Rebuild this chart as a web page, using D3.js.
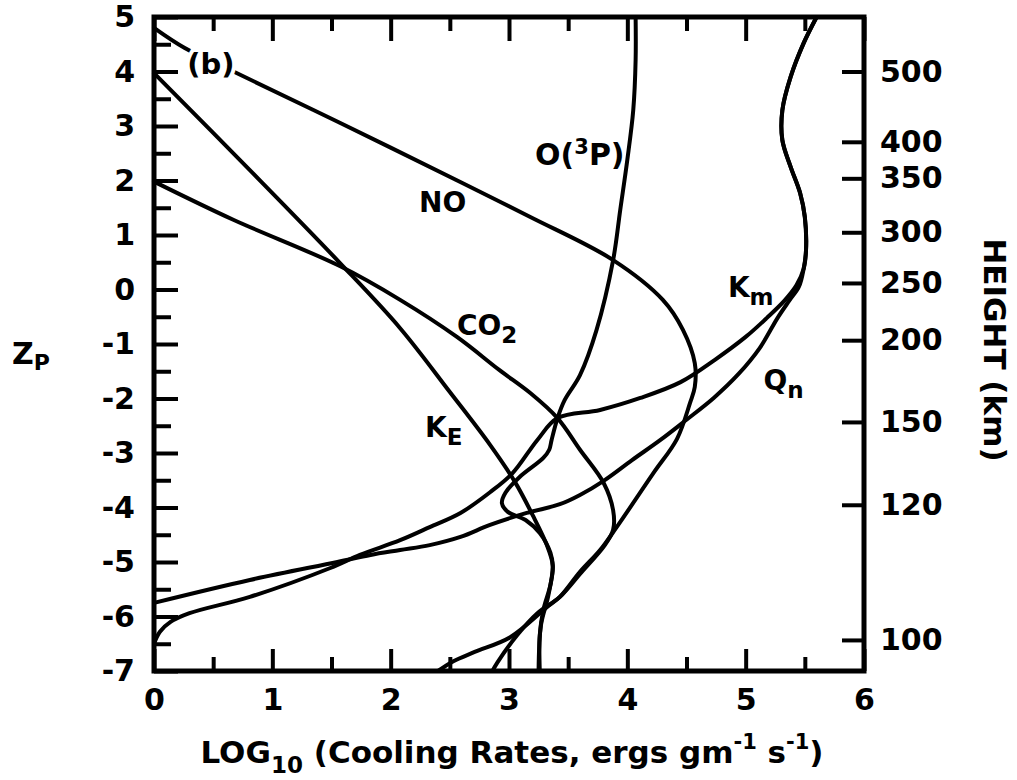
<!DOCTYPE html>
<html>
<head>
<meta charset="utf-8">
<script src="https://cdn.jsdelivr.net/npm/d3@7"></script>
<style>
  body { margin: 0; background: #fff; }
  svg { font-family: "DejaVu Sans", sans-serif; font-weight: bold; }
  .tick text { font-family: "DejaVu Sans", sans-serif; font-weight: bold; }
</style>
</head>
<body>
<svg id="chart"></svg>
<script>
(() => {
    const width = 1017;
    const height = 780;

    // log10 cooling rate vs Zp
    const noCurve = [[0, 4.80], [0.26, 4.43], [0.68, 3.99], [1.57, 3.06], [2.61, 1.95], [3.18, 1.33],
        [3.88, 0.54], [4.30, -0.19], [4.47, -0.74], [4.57, -1.35], [4.57, -1.79], [4.53, -2.08],
        [4.42, -2.74], [4.22, -3.37], [3.91, -4.36], [3.77, -4.78], [3.60, -5.18], [3.43, -5.64],
        [3.32, -5.83], [3.01, -6.38], [2.71, -6.65], [2.53, -6.82], [2.40, -7]];
    const co2Curve = [[0, 1.98], [0.67, 1.28], [1.57, 0.43], [2.08, -0.19], [2.56, -0.87], [2.92, -1.48],
        [3.18, -1.90], [3.41, -2.36], [3.60, -2.94], [3.80, -3.55], [3.88, -4.05], [3.88, -4.41],
        [3.81, -4.69], [3.60, -5.22], [3.43, -5.64], [3.24, -5.94], [3.07, -6.34], [2.90, -6.85], [2.86, -7]];
    const keCurve = [[0, 3.97], [0.81, 2.19], [1.57, 0.49], [2.08, -0.71], [2.50, -1.88], [2.84, -2.85],
        [3.05, -3.53], [3.20, -4.14], [3.32, -4.69], [3.37, -5.06], [3.35, -5.42], [3.29, -5.88],
        [3.26, -6.34], [3.26, -7]];
    const o3pCurve = [[4.07, 5], [4.07, 4.21], [4.05, 3.29], [4.00, 2.38], [3.94, 1.46], [3.88, 0.54],
        [3.74, -0.74], [3.60, -1.57], [3.47, -2.03], [3.41, -2.36], [3.36, -2.76], [3.34, -2.94],
        [3.29, -3.09], [3.09, -3.44], [2.97, -3.73], [2.94, -3.92], [2.99, -4.08], [3.14, -4.23],
        [3.26, -4.47], [3.35, -4.83], [3.37, -5.09], [3.33, -5.64], [3.27, -6.16], [3.25, -7]];
    const kmQnTop = [[5.60, 5], [5.49, 4.52], [5.38, 3.90], [5.31, 3.29], [5.31, 2.74], [5.38, 2.25],
        [5.46, 1.77], [5.50, 1.33], [5.51, 0.72], [5.49, 0.38]];
    const kmCurve = kmQnTop.concat([[5.43, 0.08], [5.33, -0.20], [5.18, -0.52], [5.00, -0.87], [4.74, -1.29],
        [4.45, -1.70], [4.11, -1.99], [3.77, -2.21], [3.41, -2.36], [3.24, -2.76], [3.03, -3.37], [2.84, -3.72],
        [2.59, -4.10], [2.33, -4.36], [2.08, -4.60], [1.74, -4.87], [1.49, -5.11], [0.81, -5.64],
        [0.30, -5.94], [0.14, -6.10], [0.05, -6.28], [0, -6.50]]);
    const qnCurve = kmQnTop.concat([[5.45, 0.05], [5.37, -0.20], [5.27, -0.52], [5.12, -1.07], [4.94, -1.55],
        [4.73, -1.99], [4.50, -2.39], [4.28, -2.76], [4.04, -3.13], [3.80, -3.51], [3.60, -3.77], [3.43, -3.94],
        [3.15, -4.10], [2.84, -4.32], [2.59, -4.54], [2.33, -4.69], [2.08, -4.78], [1.83, -4.87],
        [1.55, -5.00], [0.81, -5.33], [0, -5.75]]);

    const zpTicks = [5, 4, 3, 2, 1, 0, -1, -2, -3, -4, -5, -6, -7];
    const zpMinor = [4.5, 3.5, 2.5, 1.5, 0.5, -0.5, -1.5, -2.5, -3.5, -4.5, -5.5, -6.5];
    const xTicks = [0, 1, 2, 3, 4, 5, 6];
    const xMinor = [0.5, 1.5, 2.5, 3.5, 4.5, 5.5];
    const heightLabels = [500, 400, 350, 300, 250, 200, 150, 120, 100];
    const heightZp = [4.0, 2.71, 2.04, 1.05, 0.12, -0.93, -2.43, -3.95, -6.43];

    const left = 154, right = 864, top = 17, bottom = 671;

    const svg = d3.select("#chart")
        .attr("width", width)
        .attr("height", height);

    const x = d3.scaleLinear().domain([0, 6]).range([left, right]);
    const y = d3.scaleLinear().domain([-7, 5]).range([bottom, top]);

    const line = d3.line()
        .x(d => x(d[0]))
        .y(d => y(d[1]))
        .curve(d3.curveCatmullRom.alpha(0.5));

    // curves
    const curves = [noCurve, co2Curve, keCurve, o3pCurve, kmCurve, qnCurve];
    svg.append("g")
        .attr("class", "curves")
        .selectAll("path")
        .data(curves)
        .enter()
        .append("path")
        .attr("d", line)
        .attr("fill", "none")
        .attr("stroke", "#000")
        .attr("stroke-width", 4)
        .attr("stroke-linejoin", "round")
        .attr("stroke-linecap", "round");

    // axes, ticks pointing inward
    const styleAxis = g => {
        g.select(".domain").remove();
        g.selectAll(".tick line").attr("stroke", "#000").attr("stroke-width", 4);
        g.selectAll(".tick text").attr("fill", "#000").attr("font-size", 30);
    };

    svg.append("g")
        .attr("transform", `translate(${left},0)`)
        .call(d3.axisLeft(y).tickValues(zpTicks).tickSize(-24).tickPadding(19).tickFormat(d => String(d)))
        .call(styleAxis);
    svg.append("g")
        .attr("transform", `translate(${left},0)`)
        .call(d3.axisLeft(y).tickValues(zpMinor).tickSize(-17).tickFormat(""))
        .call(styleAxis);

    svg.append("g")
        .attr("transform", `translate(0,${bottom})`)
        .call(d3.axisBottom(x).tickValues(xTicks).tickSize(-22).tickPadding(18).tickFormat(d => String(d)))
        .call(styleAxis);
    svg.append("g")
        .attr("transform", `translate(0,${bottom})`)
        .call(d3.axisBottom(x).tickValues(xMinor).tickSize(-14).tickFormat(""))
        .call(styleAxis);

    svg.append("g")
        .attr("transform", `translate(0,${top})`)
        .call(d3.axisTop(x).tickValues(xTicks).tickSize(-24).tickFormat(""))
        .call(styleAxis);
    svg.append("g")
        .attr("transform", `translate(0,${top})`)
        .call(d3.axisTop(x).tickValues(xMinor).tickSize(-14).tickFormat(""))
        .call(styleAxis);

    svg.append("g")
        .attr("transform", `translate(${right},0)`)
        .call(d3.axisRight(y).tickValues(heightZp).tickSize(-22).tickPadding(16)
            .tickFormat((d, i) => heightLabels[i]))
        .call(styleAxis);

    // frame
    svg.append("rect")
        .attr("x", left)
        .attr("y", top)
        .attr("width", right - left)
        .attr("height", bottom - top)
        .attr("fill", "none")
        .attr("stroke", "#000")
        .attr("stroke-width", 5);

    // curve labels
    const labels = svg.append("g").attr("class", "labels").attr("fill", "#000");

    const addLabel = (xv, zp, main, sub, sup, opts = {}) => {
        const t = labels.append("text")
            .attr("x", x(xv))
            .attr("y", y(zp))
            .attr("font-size", opts.size || 28);
        if (opts.halo) {
            t.attr("stroke", "#fff").attr("stroke-width", 8).attr("paint-order", "stroke");
        }
        t.append("tspan").text(main);
        if (sup) t.append("tspan").attr("font-size", 21).attr("dy", -11).text(sup);
        if (sub) t.append("tspan").attr("font-size", opts.subSize || 23).attr("dy", 8).text(sub);
        if (opts.after) t.append("tspan").attr("dy", 11).text(opts.after);
        return t;
    };

    addLabel(0.28, 3.96, "(b)", null, null, { halo: true, size: 29 });
    addLabel(2.24, 1.42, "NO");
    addLabel(3.22, 2.28, "O(", null, "3", { after: "P)", size: 30 });
    addLabel(2.56, -0.83, "CO", "2");
    addLabel(2.29, -2.71, "K", "E");
    addLabel(4.85, -0.14, "K", "m");
    addLabel(5.15, -1.84, "Q", "n");

    // axis titles
    const zt = svg.append("text")
        .attr("x", 12)
        .attr("y", 364)
        .attr("font-size", 30);
    zt.append("tspan").text("Z");
    zt.append("tspan").attr("font-size", 22).attr("dy", 6).text("P");

    const xt = svg.append("text")
        .attr("x", 512)
        .attr("y", 763)
        .attr("text-anchor", "middle")
        .attr("font-size", 31);
    xt.append("tspan").text("LOG");
    xt.append("tspan").attr("font-size", 23).attr("dy", 10).text("10");
    xt.append("tspan").attr("dy", -10).text(" (Cooling Rates, ergs gm");
    xt.append("tspan").attr("font-size", 21).attr("dy", -14).text("-1");
    xt.append("tspan").attr("dy", 14).text(" s");
    xt.append("tspan").attr("font-size", 21).attr("dy", -14).text("-1");
    xt.append("tspan").attr("dy", 14).text(")");

    svg.append("text")
        .attr("transform", "translate(984,350) rotate(90)")
        .attr("text-anchor", "middle")
        .attr("font-size", 31)
        .text("HEIGHT (km)");
})();
</script>
</body>
</html>
